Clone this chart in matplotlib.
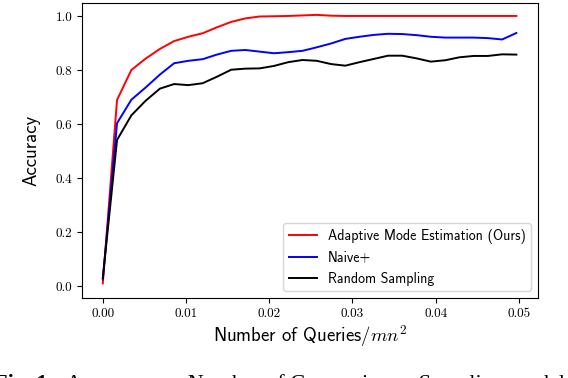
import matplotlib
matplotlib.use('Agg')
import matplotlib.pyplot as plt

plt.rcParams['mathtext.fontset'] = 'cm'

# queries / mn^2
queries = [0.0, 0.00171, 0.00343, 0.00514, 0.00686, 0.00857, 0.01028, 0.01200,
           0.01371, 0.01543, 0.01714, 0.01885, 0.02057, 0.02228, 0.02400, 0.02571,
           0.02742, 0.02914, 0.03085, 0.03257, 0.03428, 0.03599, 0.03771, 0.03942,
           0.04114, 0.04285, 0.04456, 0.04628, 0.04799, 0.04970]

acc_adaptive = [0.010, 0.689, 0.800, 0.842, 0.878, 0.907, 0.923, 0.936, 0.958, 0.978,
                0.991, 0.998, 0.999, 1.000, 1.002, 1.004, 1.001, 1.000, 1.000, 1.000,
                1.000, 1.000, 1.000, 1.000, 1.000, 1.000, 1.000, 1.000, 1.000, 1.000]

acc_naive = [0.025, 0.603, 0.690, 0.735, 0.783, 0.825, 0.834, 0.840, 0.857, 0.871,
             0.874, 0.868, 0.862, 0.866, 0.871, 0.884, 0.898, 0.915, 0.923, 0.930,
             0.934, 0.933, 0.929, 0.923, 0.920, 0.920, 0.920, 0.918, 0.913, 0.937]

acc_random = [0.030, 0.541, 0.632, 0.686, 0.731, 0.748, 0.744, 0.751, 0.775, 0.801,
              0.805, 0.806, 0.815, 0.829, 0.837, 0.834, 0.822, 0.816, 0.829, 0.841,
              0.853, 0.853, 0.843, 0.831, 0.836, 0.847, 0.852, 0.852, 0.858, 0.857]

fig = plt.figure(figsize=(5.68, 3.78), dpi=100)
ax = fig.add_axes([82 / 568, 1 - 298 / 378, 456 / 568, 295 / 378])

ax.plot(queries, acc_adaptive, color='red', lw=1.4, label='Adaptive Mode Estimation (Ours)')
ax.plot(queries, acc_naive, color='blue', lw=1.4, label='Naive+')
ax.plot(queries, acc_random, color='black', lw=1.4, label='Random Sampling')

ax.set_xlim(-0.0025, 0.0523)
ax.set_ylim(-0.044, 1.048)
ax.set_xticks([0.0, 0.01, 0.02, 0.03, 0.04, 0.05])
ax.set_yticks([0.0, 0.2, 0.4, 0.6, 0.8, 1.0])
for lab in ax.get_xticklabels() + ax.get_yticklabels():
    lab.set_fontfamily('cmr10')
    lab.set_fontsize(9.5)

ax.set_ylabel('Accuracy', family='cmss10', fontsize=13.5)
ax.set_xlabel('Number of Queries/$mn^2$', family='cmss10', fontsize=13.5)
ax.yaxis.set_label_coords(-0.092, 0.5)
ax.xaxis.set_label_coords(0.5, -0.085)

ax.legend(loc='lower right', prop={'family': 'cmss10', 'size': 10})

# caption of the paper figure, mostly cut off by the bottom edge
cap_y = -0.028
fig.text(-6 / 568, cap_y, 'Fig. 1:', family='Liberation Serif', weight='bold',
         fontsize=16, va='baseline', ha='left')
fig.text(66 / 568, cap_y, 'Accuracy vs. Number of Comparisons. Sampling model l',
         family='Liberation Serif', fontsize=16, va='baseline', ha='left')

fig.savefig('out.png', dpi=100)
